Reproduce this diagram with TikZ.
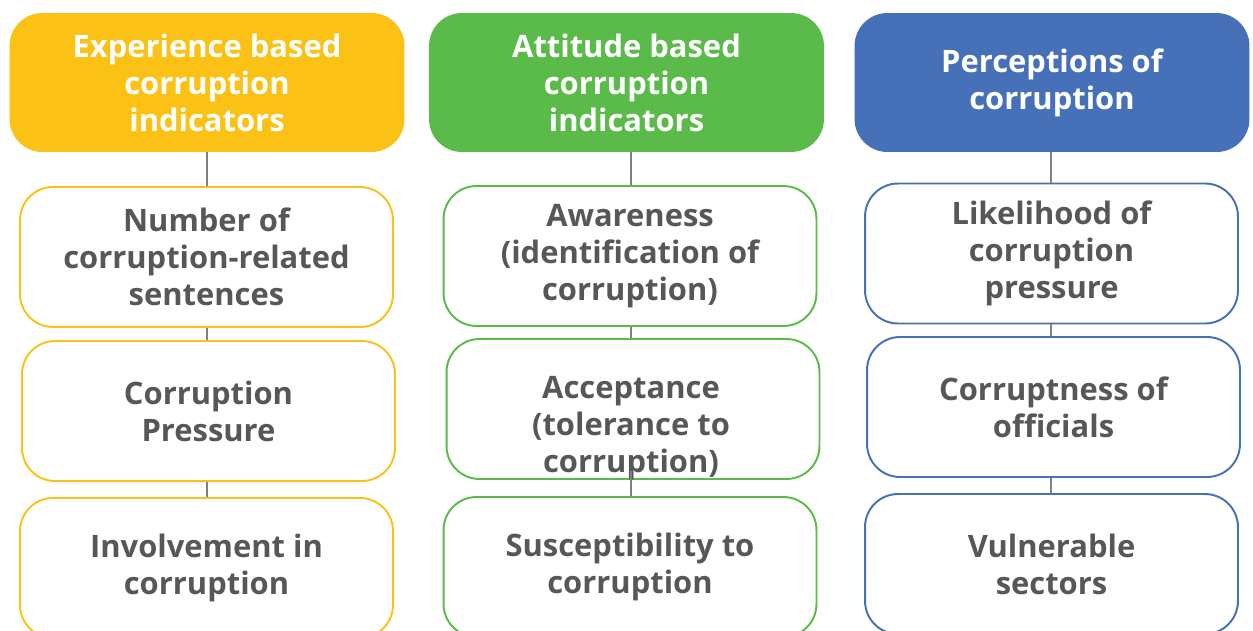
\documentclass[tikz,border=0pt]{standalone}
\usepackage{fontspec}
\setmainfont{Open Sans}
\usepackage{tikz}
\usetikzlibrary{positioning}
\definecolor{sunflower}{RGB}{251, 193, 20}
\definecolor{grass}{RGB}{91, 187, 74}
\definecolor{ocean}{RGB}{70, 112, 184}
\definecolor{slate}{RGB}{85, 87, 89}
\definecolor{wire}{RGB}{128, 128, 128}

\tikzset{
  head/.style={rounded corners=0.66cm, fill=#1, draw=none, text=white,
               minimum width=7.9cm, minimum height=2.78cm, align=center,
               font=\bfseries\fontsize{17.6}{21}\selectfont},
  item/.style={rounded corners=0.66cm, draw=#1, line width=1.1pt, fill=white, text=slate,
               minimum width=7.46cm, minimum height=2.8cm, align=center,
               font=\bfseries\fontsize{17.6}{21}\selectfont},
  link/.style={wire, line width=1.1pt}
}

\begin{document}
\begin{tikzpicture}[x=0.02cm, y=-0.02cm]
            % Frame to ensure alignment:
            \useasboundingbox (0, 0) rectangle (1253, 630);
            % Column axes
            \coordinate (expAxis) at ( 207, 0);
            \coordinate (attAxis) at ( 631, 0);
            \coordinate (perAxis) at (1051, 0);
            % Experience based
            \node[head=sunflower] (expHead) at ( 207.0,  82.5) {Experience based\\corruption\\indicators};
            \node[item=sunflower] (expOne)   at ( 206.5, 257.0) {Number of\\corruption-related\\sentences};
            \node[item=sunflower] (expTwo)   at ( 208.5, 411.0) {Corruption\\Pressure};
            \node[item=sunflower] (expThree) at ( 206.5, 568.0) {Involvement in\\corruption};
            % Attitude based
            \node[head=grass] (attHead) at ( 626.5,  82.5) {Attitude based\\corruption\\indicators};
            \node[item=grass] (attOne)   at ( 630.0, 256.0) {Awareness\\(identification of\\corruption)};
            \node[item=grass] (attTwo)   at ( 633.0, 409.0) {};
            \node[text=slate, align=center, font=\bfseries\fontsize{17.6}{21}\selectfont]
                 (attTwoText) at ( 631.0, 428.0) {Acceptance\\(tolerance to\\corruption)};
            \node[item=grass] (attThree) at ( 630.0, 567.0) {Susceptibility to\\corruption};
            % Perceptions
            \node[head=ocean] (perHead) at (1052.0,  82.5) {Perceptions of\\corruption};
            \node[item=ocean] (perOne)   at (1051.5, 253.5) {Likelihood of\\corruption\\pressure};
            \node[item=ocean] (perTwo)   at (1053.5, 407.0) {Corruptness of\\officials};
            \node[item=ocean] (perThree) at (1051.5, 564.0) {Vulnerable\\sectors};
            % Connectors
            \draw[link] (expHead.south -| expAxis) -- (expOne.north -| expAxis);
            \draw[link] (expOne.south -| expAxis)  -- (expTwo.north -| expAxis);
            \draw[link] (expTwo.south -| expAxis)  -- (expThree.north -| expAxis);
            \draw[link] (attHead.south -| attAxis) -- (attOne.north -| attAxis);
            \draw[link] (attOne.south -| attAxis)  -- (attTwo.north -| attAxis);
            \draw[link] (attTwo.south -| attAxis) ++(0, -9) -- (attThree.north -| attAxis);
            \draw[link] (perHead.south -| perAxis) -- (perOne.north -| perAxis);
            \draw[link] (perOne.south -| perAxis)  -- (perTwo.north -| perAxis);
            \draw[link] (perTwo.south -| perAxis)  -- (perThree.north -| perAxis);
        \end{tikzpicture}
\end{document}
